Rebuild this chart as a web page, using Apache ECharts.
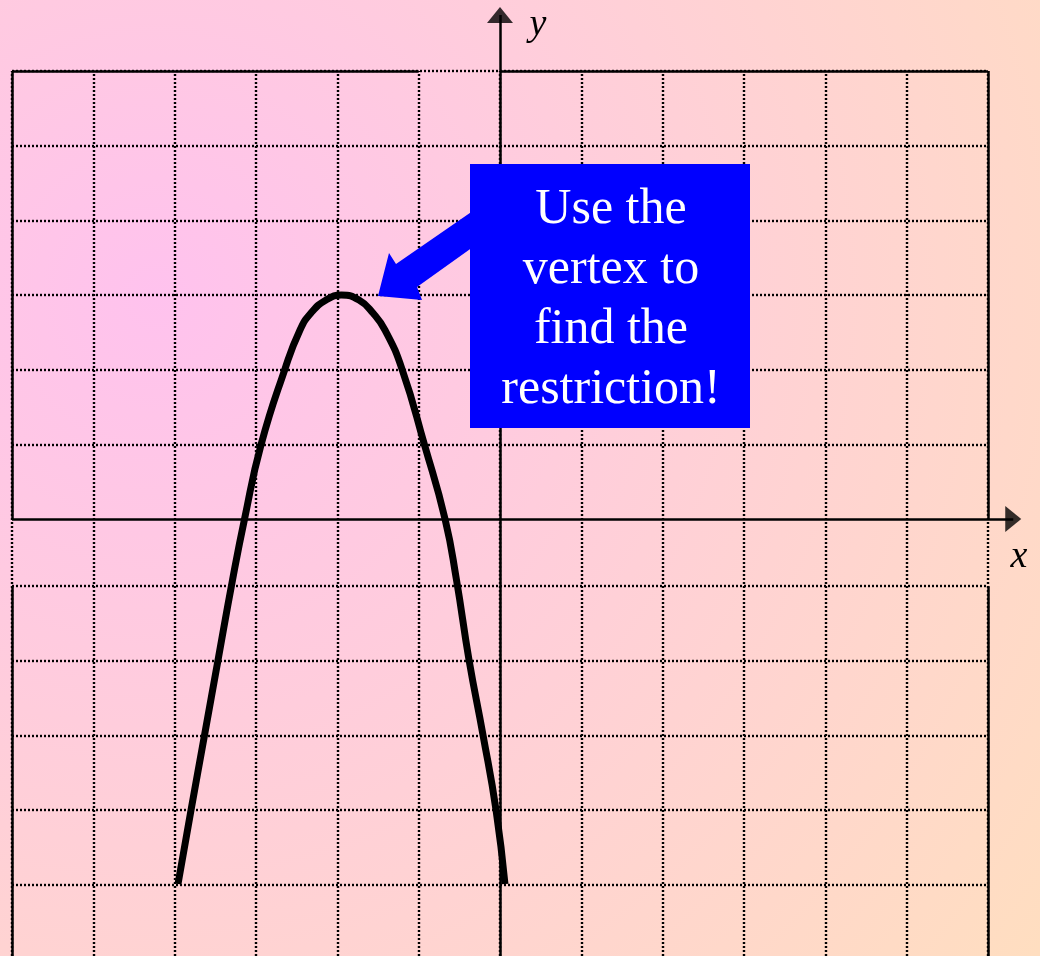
<!DOCTYPE html>
<html>
<head>
<meta charset="utf-8">
<script src="https://cdn.jsdelivr.net/npm/echarts@6/dist/echarts.min.js"></script>
<style>
html,body{margin:0;padding:0;background:#fff;}
#c{width:1040px;height:956px;}
</style>
</head>
<body>
<div id="c"></div>
<script>
// ---- data (in graph units) ----
const xGridLines = [-6,-5,-4,-3,-2,-1,0,1,2,3,4,5,6];
const yGridLines = [6,5,4,3,2,1,-0.9,-1.9,-2.9,-3.9,-4.9];
const xRange = [-6, 6.5];
const yRange = [-5.852, 6.951];
const gridBottom = -5.852;
const gridTop = 6;
// solid frame pieces [x1,y1,x2,y2]
const frameSegments = [
  [-6,6,-1,6],[0,6,6,6],
  [-6,6,-6,0],[-6,-0.9,-6,-5.852],
  [6,6,6,0],[6,-0.9,6,-5.852]
];
// coordinate axes [x1,y1,x2,y2]
const axisSegments = [[-6,0,6.31,0],[0,-5.852,0,6.75]];
// arrow heads [x, y, rotation]
const arrowHeads = [[6.31,0,-90],[0,6.75,0]];

// curve
const curveX = [-3.959,-3.799,-3.633,-3.467,-3.289,-3.141,-2.939,-2.644,-2.459,-2.324,-2.139,-1.949,-1.734,-1.562,-1.414,-1.205,-0.928,-0.676,-0.535,-0.381,-0.209,-0.049,0.061];
const curveY = [-4.888,-3.897,-2.893,-1.888,-0.817,0,0.991,2.009,2.531,2.759,2.933,3.0,2.933,2.759,2.531,2.009,0.991,0,-0.817,-1.888,-2.893,-3.897,-4.888];

const calloutLines = ['Use the','vertex to','find the','restriction!'];
const xAxisName = 'x';
const yAxisName = 'y';

// ---- build ----
function seg(a){ return [{coord:[a[0],a[1]]},{coord:[a[2],a[3]]}]; }
const dotted = [];
xGridLines.forEach(x => dotted.push(seg([x,gridBottom,x,gridTop])));
yGridLines.forEach(y => dotted.push(seg([xGridLines[0],y,xGridLines[xGridLines.length-1],y])));

const curveData = curveX.map((x,i)=>[x,curveY[i]]);

const chart = echarts.init(document.getElementById('c'), null, {renderer:'canvas'});
const option = {
  animation:false,
  backgroundColor:{
    type:'radial', x:0.15, y:0.31, r:1.15,
    colorStops:[{offset:0,color:'#FFC2EE'},{offset:1,color:'#FFDEC0'}]
  },
  grid:{left:12, right:11.3, top:0, bottom:0, containLabel:false},
  xAxis:{type:'value', min:xRange[0], max:xRange[1], show:false, splitLine:{show:false}},
  yAxis:{type:'value', min:yRange[0], max:yRange[1], show:false, splitLine:{show:false}},
  series:[
    {
      type:'line', data:[], z:1, silent:true,
      markLine:{
        silent:true, symbol:['none','none'], label:{show:false},
        emphasis:{disabled:true}, animation:false,
        lineStyle:{color:'#000', width:2.4, type:[2,2]},
        data:dotted
      }
    },
    {
      type:'line', data:[], z:2, silent:true,
      markLine:{
        silent:true, symbol:['none','none'], label:{show:false},
        emphasis:{disabled:true}, animation:false,
        lineStyle:{color:'#000', width:2.5, type:'solid'},
        data:frameSegments.map(seg).concat(axisSegments.map(seg))
      }
    },
    {
      type:'scatter', z:3, silent:true,
      symbol:'triangle', symbolSize:[26,16],
      symbolRotate:function(v){ return v[2]; },
      itemStyle:{color:'#000'},
      data:arrowHeads
    },
    {
      type:'line', z:4, silent:true, smooth:0.5, showSymbol:false,
      lineStyle:{color:'#000', width:7, cap:'butt', join:'round'},
      data:curveData
    }
  ],
  graphic:[
    {type:'polygon', z:10, silent:true,
     shape:{points:[[480,206],[396,264],[389,253],[378,296],[422,300],[417,287],[480,242]]},
     style:{fill:'#0000FF'}},
    {type:'rect', z:11, silent:true,
     shape:{x:470,y:164,width:280,height:264},
     style:{fill:'#0000FF'}},
    {type:'text', z:12, silent:true, x:611, y:300,
     style:{text:calloutLines.join('\n'), fill:'#fff', fontSize:50,
            fontFamily:'"Liberation Serif", "Times New Roman", serif',
            align:'center', verticalAlign:'middle', lineHeight:60}},
    {type:'text', z:12, silent:true, x:1019, y:557,
     style:{text:xAxisName, fill:'#000', fontSize:38, fontStyle:'italic',
            fontFamily:'"Liberation Serif", serif', align:'center', verticalAlign:'middle'}},
    {type:'text', z:12, silent:true, x:538, y:25,
     style:{text:yAxisName, fill:'#000', fontSize:38, fontStyle:'italic',
            fontFamily:'"Liberation Serif", serif', align:'center', verticalAlign:'middle'}}
  ]
};
chart.setOption(option);
</script>
</body>
</html>
